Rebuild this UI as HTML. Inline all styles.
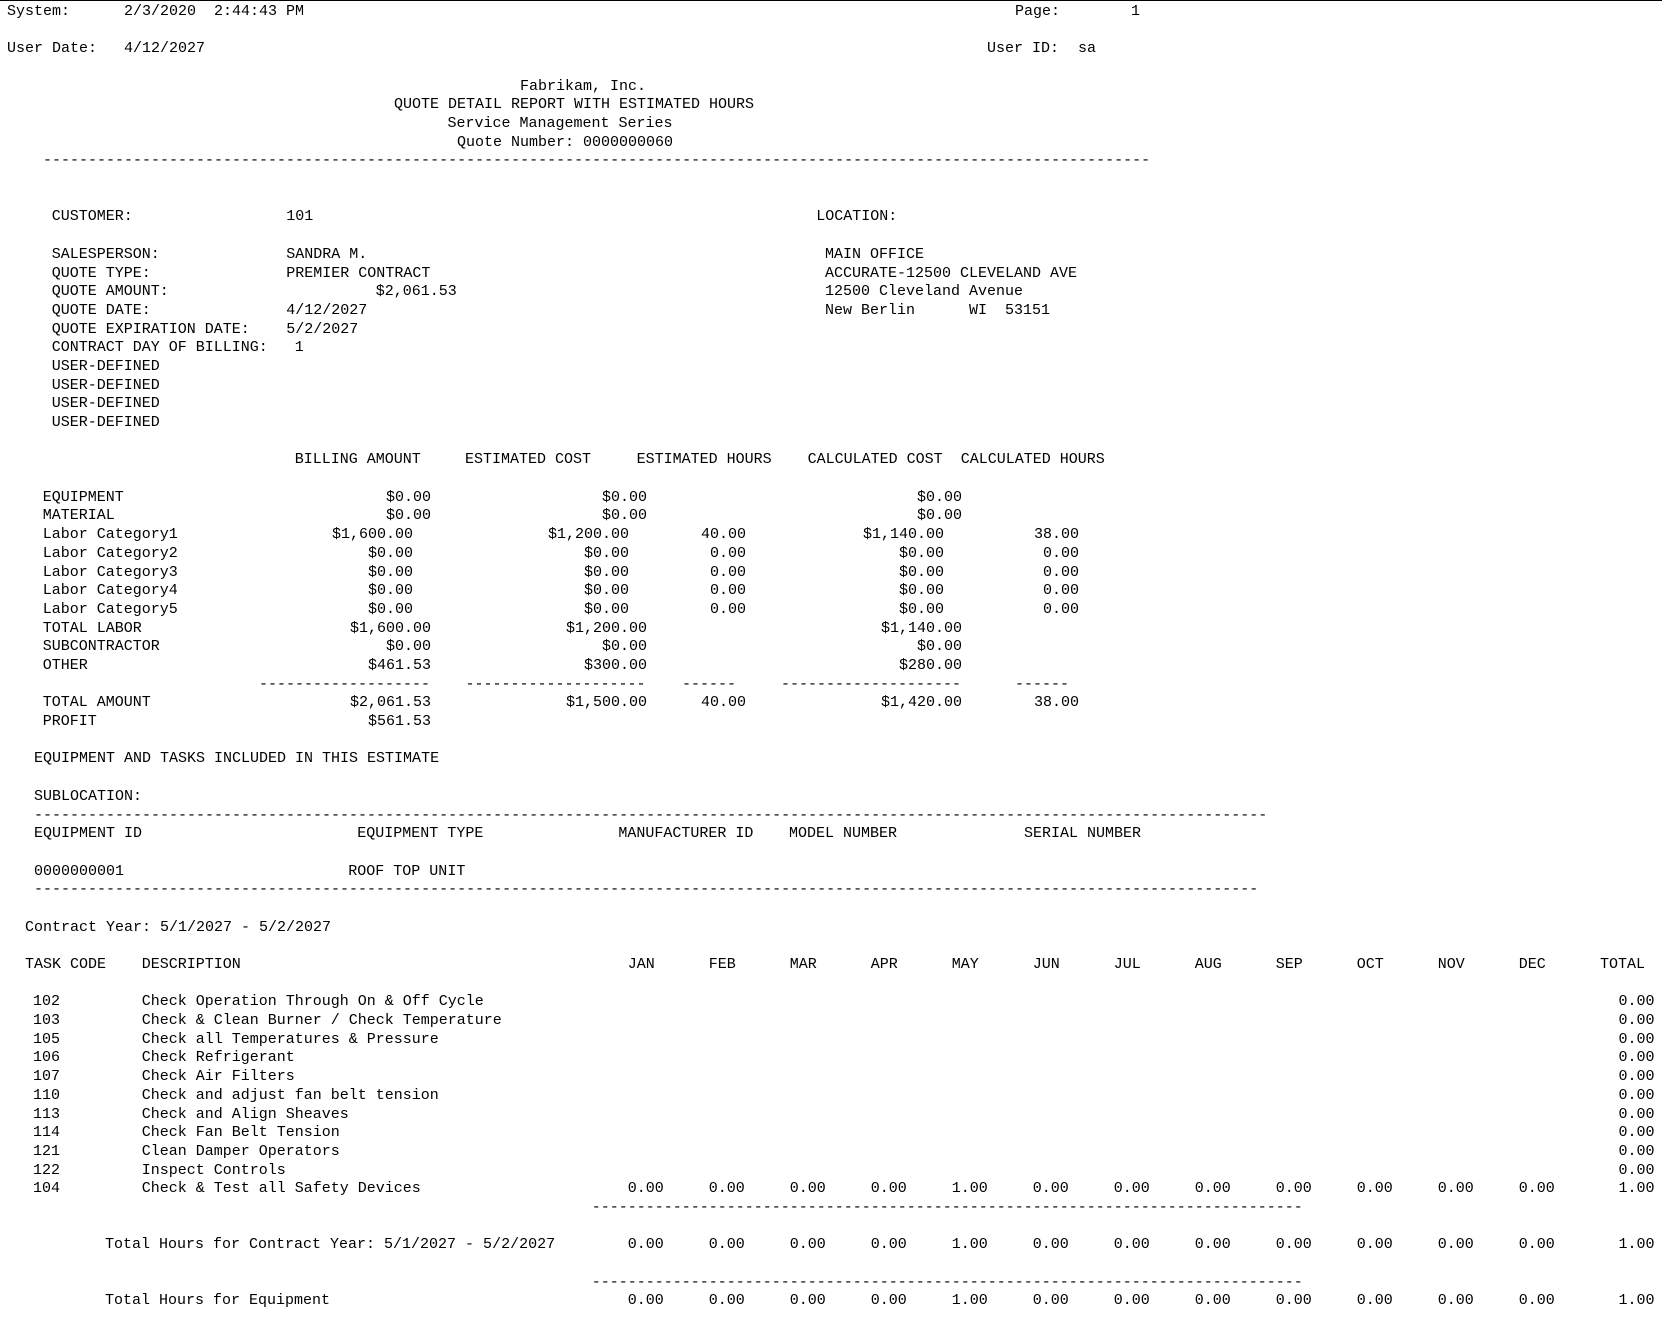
<!DOCTYPE html>
<html>
<head>
<meta charset="utf-8">
<style>
html,body{margin:0;padding:0;background:#fff;}
body{width:1662px;height:1328px;position:relative;overflow:hidden;}
.t{position:absolute;white-space:pre;font-family:"Liberation Mono","DejaVu Sans Mono",monospace;font-size:15px;line-height:17px;color:#000;}
.d{position:absolute;white-space:pre;overflow:hidden;font-family:"Liberation Mono","DejaVu Sans Mono",monospace;font-size:15px;line-height:17px;height:17px;color:#000;}
.top{position:absolute;left:0;top:0;width:1662px;height:1px;background:#000;}
</style>
</head>
<body>
<div class="top"></div>

<!-- header -->
<div class="t" style="top:2.8px;left:7px">System:</div>
<div class="t" style="top:2.8px;left:124px">2/3/2020  2:44:43 PM</div>
<div class="t" style="top:2.8px;left:1015px">Page:</div>
<div class="t" style="top:2.8px;left:1131px">1</div>
<div class="t" style="top:40.2px;left:7px">User Date:</div>
<div class="t" style="top:40.2px;left:124px">4/12/2027</div>
<div class="t" style="top:40.2px;left:987px">User ID:</div>
<div class="t" style="top:40.2px;left:1078px">sa</div>

<div class="t" style="top:77.6px;left:520px">Fabrikam, Inc.</div>
<div class="t" style="top:96.2px;left:394px">QUOTE DETAIL REPORT WITH ESTIMATED HOURS</div>
<div class="t" style="top:114.9px;left:447.5px">Service Management Series</div>
<div class="t" style="top:133.6px;left:457px">Quote Number: 0000000060</div>
<div class="d" style="top:152.3px;left:43px;width:1107px">--------------------------------------------------------------------------------------------------------------------------------------------</div>

<!-- customer block -->
<div class="t" style="top:208.4px;left:51.7px">CUSTOMER:</div>
<div class="t" style="top:208.4px;left:286.3px">101</div>
<div class="t" style="top:208.4px;left:816.3px">LOCATION:</div>

<div class="t" style="top:245.8px;left:51.7px">SALESPERSON:</div>
<div class="t" style="top:245.8px;left:286.3px">SANDRA M.</div>
<div class="t" style="top:245.8px;left:825px">MAIN OFFICE</div>

<div class="t" style="top:264.5px;left:51.7px">QUOTE TYPE:</div>
<div class="t" style="top:264.5px;left:286.3px">PREMIER CONTRACT</div>
<div class="t" style="top:264.5px;left:825px">ACCURATE-12500 CLEVELAND AVE</div>

<div class="t" style="top:283.2px;left:51.7px">QUOTE AMOUNT:</div>
<div class="t" style="top:283.2px;left:375.7px">$2,061.53</div>
<div class="t" style="top:283.2px;left:825px">12500 Cleveland Avenue</div>

<div class="t" style="top:301.8px;left:51.7px">QUOTE DATE:</div>
<div class="t" style="top:301.8px;left:286.3px">4/12/2027</div>
<div class="t" style="top:301.8px;left:825px">New Berlin      WI  53151</div>

<div class="t" style="top:320.5px;left:51.7px">QUOTE EXPIRATION DATE:</div>
<div class="t" style="top:320.5px;left:286.3px">5/2/2027</div>

<div class="t" style="top:339.2px;left:51.7px">CONTRACT DAY OF BILLING:</div>
<div class="t" style="top:339.2px;left:294.7px">1</div>

<div class="t" style="top:357.9px;left:51.7px">USER-DEFINED</div>
<div class="t" style="top:376.6px;left:51.7px">USER-DEFINED</div>
<div class="t" style="top:395.3px;left:51.7px">USER-DEFINED</div>
<div class="t" style="top:414.0px;left:51.7px">USER-DEFINED</div>

<!-- billing table headers -->
<div class="t" style="top:451.4px;left:294.7px">BILLING AMOUNT</div>
<div class="t" style="top:451.4px;left:465px">ESTIMATED COST</div>
<div class="t" style="top:451.4px;left:636.6px">ESTIMATED HOURS</div>
<div class="t" style="top:451.4px;left:807.6px">CALCULATED COST</div>
<div class="t" style="top:451.4px;left:960.7px">CALCULATED HOURS</div>

<!-- EQUIPMENT -->
<div class="t" style="top:488.7px;left:42.7px">EQUIPMENT</div>
<div class="t" style="top:488.7px;right:1231px">$0.00</div>
<div class="t" style="top:488.7px;right:1015px">$0.00</div>
<div class="t" style="top:488.7px;right:700px">$0.00</div>
<!-- MATERIAL -->
<div class="t" style="top:507.4px;left:42.7px">MATERIAL</div>
<div class="t" style="top:507.4px;right:1231px">$0.00</div>
<div class="t" style="top:507.4px;right:1015px">$0.00</div>
<div class="t" style="top:507.4px;right:700px">$0.00</div>
<!-- Labor 1 -->
<div class="t" style="top:526.1px;left:42.7px">Labor Category1</div>
<div class="t" style="top:526.1px;right:1249px">$1,600.00</div>
<div class="t" style="top:526.1px;right:1033px">$1,200.00</div>
<div class="t" style="top:526.1px;right:916px">40.00</div>
<div class="t" style="top:526.1px;right:718px">$1,140.00</div>
<div class="t" style="top:526.1px;right:583px">38.00</div>
<!-- Labor 2 -->
<div class="t" style="top:544.8px;left:42.7px">Labor Category2</div>
<div class="t" style="top:544.8px;right:1249px">$0.00</div>
<div class="t" style="top:544.8px;right:1033px">$0.00</div>
<div class="t" style="top:544.8px;right:916px">0.00</div>
<div class="t" style="top:544.8px;right:718px">$0.00</div>
<div class="t" style="top:544.8px;right:583px">0.00</div>
<!-- Labor 3 -->
<div class="t" style="top:563.5px;left:42.7px">Labor Category3</div>
<div class="t" style="top:563.5px;right:1249px">$0.00</div>
<div class="t" style="top:563.5px;right:1033px">$0.00</div>
<div class="t" style="top:563.5px;right:916px">0.00</div>
<div class="t" style="top:563.5px;right:718px">$0.00</div>
<div class="t" style="top:563.5px;right:583px">0.00</div>
<!-- Labor 4 -->
<div class="t" style="top:582.2px;left:42.7px">Labor Category4</div>
<div class="t" style="top:582.2px;right:1249px">$0.00</div>
<div class="t" style="top:582.2px;right:1033px">$0.00</div>
<div class="t" style="top:582.2px;right:916px">0.00</div>
<div class="t" style="top:582.2px;right:718px">$0.00</div>
<div class="t" style="top:582.2px;right:583px">0.00</div>
<!-- Labor 5 -->
<div class="t" style="top:600.9px;left:42.7px">Labor Category5</div>
<div class="t" style="top:600.9px;right:1249px">$0.00</div>
<div class="t" style="top:600.9px;right:1033px">$0.00</div>
<div class="t" style="top:600.9px;right:916px">0.00</div>
<div class="t" style="top:600.9px;right:718px">$0.00</div>
<div class="t" style="top:600.9px;right:583px">0.00</div>
<!-- TOTAL LABOR -->
<div class="t" style="top:619.6px;left:42.7px">TOTAL LABOR</div>
<div class="t" style="top:619.6px;right:1231px">$1,600.00</div>
<div class="t" style="top:619.6px;right:1015px">$1,200.00</div>
<div class="t" style="top:619.6px;right:700px">$1,140.00</div>
<!-- SUBCONTRACTOR -->
<div class="t" style="top:638.3px;left:42.7px">SUBCONTRACTOR</div>
<div class="t" style="top:638.3px;right:1231px">$0.00</div>
<div class="t" style="top:638.3px;right:1015px">$0.00</div>
<div class="t" style="top:638.3px;right:700px">$0.00</div>
<!-- OTHER -->
<div class="t" style="top:657.0px;left:42.7px">OTHER</div>
<div class="t" style="top:657.0px;right:1231px">$461.53</div>
<div class="t" style="top:657.0px;right:1015px">$300.00</div>
<div class="t" style="top:657.0px;right:700px">$280.00</div>
<!-- dashes -->
<div class="d" style="top:675.6px;left:259px;width:171px">------------------------------</div>
<div class="d" style="top:675.6px;left:465.5px;width:180px">------------------------------</div>
<div class="d" style="top:675.6px;left:682px;width:54px">----------</div>
<div class="d" style="top:675.6px;left:781px;width:180px">------------------------------</div>
<div class="d" style="top:675.6px;left:1015px;width:54px">----------</div>
<!-- TOTAL AMOUNT -->
<div class="t" style="top:694.3px;left:42.7px">TOTAL AMOUNT</div>
<div class="t" style="top:694.3px;right:1231px">$2,061.53</div>
<div class="t" style="top:694.3px;right:1015px">$1,500.00</div>
<div class="t" style="top:694.3px;right:916px">40.00</div>
<div class="t" style="top:694.3px;right:700px">$1,420.00</div>
<div class="t" style="top:694.3px;right:583px">38.00</div>
<!-- PROFIT -->
<div class="t" style="top:713.0px;left:42.7px">PROFIT</div>
<div class="t" style="top:713.0px;right:1231px">$561.53</div>

<!-- equipment section -->
<div class="t" style="top:750.4px;left:34px">EQUIPMENT AND TASKS INCLUDED IN THIS ESTIMATE</div>
<div class="t" style="top:787.8px;left:34px">SUBLOCATION:</div>
<div class="d" style="top:806.5px;left:34px;width:1233px">------------------------------------------------------------------------------------------------------------------------------------------------------</div>
<div class="t" style="top:825.2px;left:34px">EQUIPMENT ID</div>
<div class="t" style="top:825.2px;left:357.3px">EQUIPMENT TYPE</div>
<div class="t" style="top:825.2px;left:618.4px">MANUFACTURER ID</div>
<div class="t" style="top:825.2px;left:789px">MODEL NUMBER</div>
<div class="t" style="top:825.2px;left:1024px">SERIAL NUMBER</div>
<div class="t" style="top:862.5px;left:34px">0000000001</div>
<div class="t" style="top:862.5px;left:348.3px">ROOF TOP UNIT</div>
<div class="d" style="top:881.2px;left:34px;width:1224px">------------------------------------------------------------------------------------------------------------------------------------------------------</div>

<div class="t" style="top:918.6px;left:25px">Contract Year: 5/1/2027 - 5/2/2027</div>

<!-- task header -->
<div class="t" style="top:956.0px;left:25px">TASK CODE</div>
<div class="t" style="top:956.0px;left:141.7px">DESCRIPTION</div>
<div class="t" style="top:956.0px;left:627.7px">JAN</div>
<div class="t" style="top:956.0px;left:708.7px">FEB</div>
<div class="t" style="top:956.0px;left:789.7px">MAR</div>
<div class="t" style="top:956.0px;left:870.7px">APR</div>
<div class="t" style="top:956.0px;left:951.7px">MAY</div>
<div class="t" style="top:956.0px;left:1032.7px">JUN</div>
<div class="t" style="top:956.0px;left:1113.7px">JUL</div>
<div class="t" style="top:956.0px;left:1194.7px">AUG</div>
<div class="t" style="top:956.0px;left:1275.7px">SEP</div>
<div class="t" style="top:956.0px;left:1356.7px">OCT</div>
<div class="t" style="top:956.0px;left:1437.7px">NOV</div>
<div class="t" style="top:956.0px;left:1518.7px">DEC</div>
<div class="t" style="top:956.0px;left:1600px">TOTAL</div>

<!-- tasks -->
<div class="t" style="top:993.4px;left:33px">102</div>
<div class="t" style="top:993.4px;left:141.7px">Check Operation Through On &amp; Off Cycle</div>
<div class="t" style="top:993.4px;right:7.5px">0.00</div>

<div class="t" style="top:1012.1px;left:33px">103</div>
<div class="t" style="top:1012.1px;left:141.7px">Check &amp; Clean Burner / Check Temperature</div>
<div class="t" style="top:1012.1px;right:7.5px">0.00</div>

<div class="t" style="top:1030.8px;left:33px">105</div>
<div class="t" style="top:1030.8px;left:141.7px">Check all Temperatures &amp; Pressure</div>
<div class="t" style="top:1030.8px;right:7.5px">0.00</div>

<div class="t" style="top:1049.4px;left:33px">106</div>
<div class="t" style="top:1049.4px;left:141.7px">Check Refrigerant</div>
<div class="t" style="top:1049.4px;right:7.5px">0.00</div>

<div class="t" style="top:1068.1px;left:33px">107</div>
<div class="t" style="top:1068.1px;left:141.7px">Check Air Filters</div>
<div class="t" style="top:1068.1px;right:7.5px">0.00</div>

<div class="t" style="top:1086.8px;left:33px">110</div>
<div class="t" style="top:1086.8px;left:141.7px">Check and adjust fan belt tension</div>
<div class="t" style="top:1086.8px;right:7.5px">0.00</div>

<div class="t" style="top:1105.5px;left:33px">113</div>
<div class="t" style="top:1105.5px;left:141.7px">Check and Align Sheaves</div>
<div class="t" style="top:1105.5px;right:7.5px">0.00</div>

<div class="t" style="top:1124.2px;left:33px">114</div>
<div class="t" style="top:1124.2px;left:141.7px">Check Fan Belt Tension</div>
<div class="t" style="top:1124.2px;right:7.5px">0.00</div>

<div class="t" style="top:1142.9px;left:33px">121</div>
<div class="t" style="top:1142.9px;left:141.7px">Clean Damper Operators</div>
<div class="t" style="top:1142.9px;right:7.5px">0.00</div>

<div class="t" style="top:1161.6px;left:33px">122</div>
<div class="t" style="top:1161.6px;left:141.7px">Inspect Controls</div>
<div class="t" style="top:1161.6px;right:7.5px">0.00</div>

<div class="t" style="top:1180.3px;left:33px">104</div>
<div class="t" style="top:1180.3px;left:141.7px">Check &amp; Test all Safety Devices</div>
<div class="t" style="top:1180.3px;left:627.7px">0.00</div>
<div class="t" style="top:1180.3px;left:708.7px">0.00</div>
<div class="t" style="top:1180.3px;left:789.7px">0.00</div>
<div class="t" style="top:1180.3px;left:870.7px">0.00</div>
<div class="t" style="top:1180.3px;left:951.7px">1.00</div>
<div class="t" style="top:1180.3px;left:1032.7px">0.00</div>
<div class="t" style="top:1180.3px;left:1113.7px">0.00</div>
<div class="t" style="top:1180.3px;left:1194.7px">0.00</div>
<div class="t" style="top:1180.3px;left:1275.7px">0.00</div>
<div class="t" style="top:1180.3px;left:1356.7px">0.00</div>
<div class="t" style="top:1180.3px;left:1437.7px">0.00</div>
<div class="t" style="top:1180.3px;left:1518.7px">0.00</div>
<div class="t" style="top:1180.3px;right:7.5px">1.00</div>

<div class="d" style="top:1199.0px;left:591.7px;width:711px">----------------------------------------------------------------------------------------------------</div>

<div class="t" style="top:1236.3px;left:105px">Total Hours for Contract Year: 5/1/2027 - 5/2/2027</div>
<div class="t" style="top:1236.3px;left:627.7px">0.00</div>
<div class="t" style="top:1236.3px;left:708.7px">0.00</div>
<div class="t" style="top:1236.3px;left:789.7px">0.00</div>
<div class="t" style="top:1236.3px;left:870.7px">0.00</div>
<div class="t" style="top:1236.3px;left:951.7px">1.00</div>
<div class="t" style="top:1236.3px;left:1032.7px">0.00</div>
<div class="t" style="top:1236.3px;left:1113.7px">0.00</div>
<div class="t" style="top:1236.3px;left:1194.7px">0.00</div>
<div class="t" style="top:1236.3px;left:1275.7px">0.00</div>
<div class="t" style="top:1236.3px;left:1356.7px">0.00</div>
<div class="t" style="top:1236.3px;left:1437.7px">0.00</div>
<div class="t" style="top:1236.3px;left:1518.7px">0.00</div>
<div class="t" style="top:1236.3px;right:7.5px">1.00</div>

<div class="d" style="top:1273.7px;left:591.7px;width:711px">----------------------------------------------------------------------------------------------------</div>

<div class="t" style="top:1292.4px;left:105px">Total Hours for Equipment</div>
<div class="t" style="top:1292.4px;left:627.7px">0.00</div>
<div class="t" style="top:1292.4px;left:708.7px">0.00</div>
<div class="t" style="top:1292.4px;left:789.7px">0.00</div>
<div class="t" style="top:1292.4px;left:870.7px">0.00</div>
<div class="t" style="top:1292.4px;left:951.7px">1.00</div>
<div class="t" style="top:1292.4px;left:1032.7px">0.00</div>
<div class="t" style="top:1292.4px;left:1113.7px">0.00</div>
<div class="t" style="top:1292.4px;left:1194.7px">0.00</div>
<div class="t" style="top:1292.4px;left:1275.7px">0.00</div>
<div class="t" style="top:1292.4px;left:1356.7px">0.00</div>
<div class="t" style="top:1292.4px;left:1437.7px">0.00</div>
<div class="t" style="top:1292.4px;left:1518.7px">0.00</div>
<div class="t" style="top:1292.4px;right:7.5px">1.00</div>
</body>
</html>
